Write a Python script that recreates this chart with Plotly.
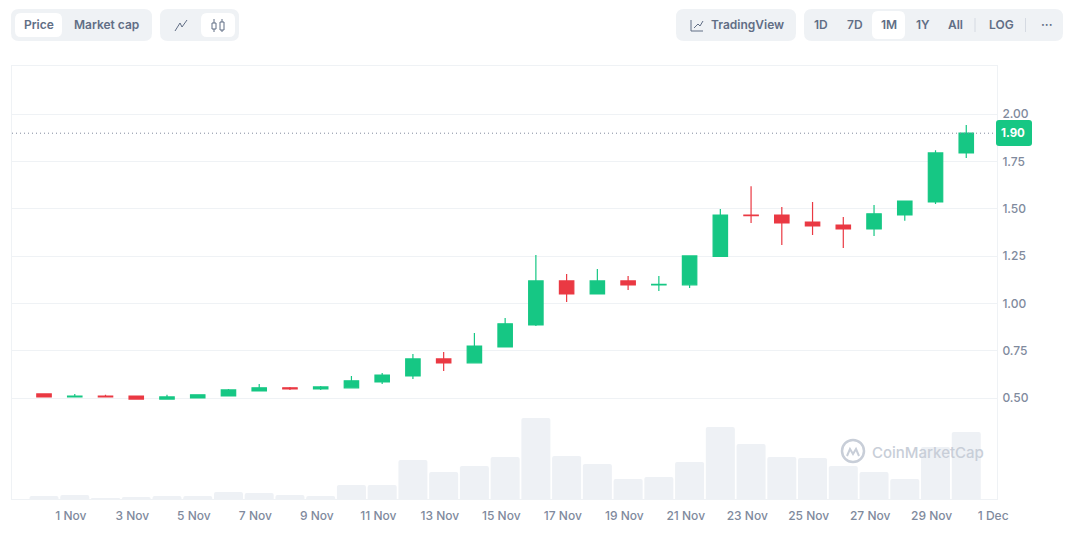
import pandas as pd
import plotly.graph_objects as go

# one candle per day, 31 Oct - 30 Nov
days = pd.date_range("2021-10-31", periods=31, freq="D") + pd.Timedelta(hours=3)

opens = [.523, .507, .512, .512, .496, .502, .512, .539, .555, .549, .555,
         .586, .618, .708, .687, .771, .887, 1.12, 1.051, 1.12, 1.099,
         1.099, 1.25, 1.468, 1.468, 1.431, 1.415, 1.394, 1.468, 1.537, 1.796]
closes = [.507, .512, .507, .496, .507, .518, .544, .555, .549, .56, .592,
          .623, .708, .687, .776, .893, 1.12, 1.051, 1.12, 1.099, 1.102,
          1.252, 1.468, 1.465, 1.426, 1.41, 1.394, 1.474, 1.542, 1.796, 1.90]
highs = [.523, .523, .518, .512, .518, .518, .549, .576, .56, .565, .618,
         .634, .734, .745, .845, .924, 1.257, 1.157, 1.183, 1.146, 1.146,
         1.252, 1.50, 1.62, 1.51, 1.537, 1.458, 1.521, 1.542, 1.81, 1.944]
lows = [.507, .507, .505, .496, .496, .502, .512, .539, .544, .544, .555,
        .576, .602, .644, .687, .771, .882, 1.009, 1.051, 1.072, 1.067,
        1.083, 1.25, 1.426, 1.31, 1.363, 1.294, 1.357, 1.437, 1.526, 1.769]
# volume has no scale on the chart, so these are relative heights
volumes = [3, 4, 1, 2, 3, 3, 7, 6, 4, 3, 14, 14, 39, 27, 33, 42, 81, 43, 35, 20,
           22, 37, 72, 55, 42, 41, 33, 27, 20, 52, 67]

price_ticks = [0.5, 0.75, 1.0, 1.25, 1.5, 1.75, 2.0]
last_price = closes[-1]

GREEN = "#16c784"
RED = "#ea3943"
GRID = "#eff2f5"
PANEL = "#eff2f5"
BTN_TEXT = "#616e85"
TICK_TEXT = "#808a9d"
FONT = "Inter"

# plot box in window pixels
L, R, T, B = 12, 997, 66, 499


def px(x):
    return (x - L) / (R - L)


def py(y):
    return (B - y) / (B - T)


def rrect(x0, y0, x1, y1, r, color):
    a, b, c, d = px(x0), px(x1), py(y0), py(y1)
    rx, ry = r / (R - L), r / (B - T)
    path = (f"M {a+rx} {c} L {b-rx} {c} Q {b} {c} {b} {c-ry} L {b} {d+ry} Q {b} {d} {b-rx} {d} "
            f"L {a+rx} {d} Q {a} {d} {a} {d+ry} L {a} {c-ry} Q {a} {c} {a+rx} {c} Z")
    return dict(type="path", xref="paper", yref="paper", path=path, fillcolor=color, line_width=0)


def stroke(points, color=BTN_TEXT, width=1):
    path = "M " + " L ".join(f"{px(x)} {py(y)}" for x, y in points)
    return dict(type="path", xref="paper", yref="paper", path=path, line=dict(color=color, width=width))


def label(text, x, y, size=12, color=BTN_TEXT, weight=600):
    return dict(text=text, x=px(x), y=py(y), xref="paper", yref="paper", showarrow=False,
                xanchor="center", yanchor="middle",
                font=dict(family=FONT, size=size, color=color, weight=weight))


fig = go.Figure()
fig.add_trace(go.Bar(x=days, y=volumes, yaxis="y2", width=0.944 * 86400000,
                     marker=dict(color="#eef1f5", line_width=0, cornerradius=2), hoverinfo="skip"))
fig.add_trace(go.Candlestick(
    x=days, open=opens, high=highs, low=lows, close=closes, whiskerwidth=0,
    increasing=dict(line=dict(color=GREEN, width=1.2), fillcolor=GREEN),
    decreasing=dict(line=dict(color=RED, width=1.2), fillcolor=RED),
))

shapes = [
    dict(type="line", xref="paper", yref="y", x0=0, x1=1, y0=last_price, y1=last_price,
         line=dict(color="#808a9d", width=1, dash="1px,3px")),
    # toolbar panels
    rrect(11, 9, 152, 41, 8, PANEL),
    rrect(15, 13, 62, 37, 6, "#ffffff"),
    rrect(160, 9, 239, 41, 8, PANEL),
    rrect(201, 13, 235, 37, 6, "#ffffff"),
    rrect(676, 9, 796, 41, 8, PANEL),
    rrect(804, 9, 1063, 41, 8, PANEL),
    rrect(872, 11, 905, 39, 6, "#ffffff"),
    stroke([(975, 18), (975, 32)], "#d5dae2"),
    stroke([(1025.5, 18), (1025.5, 32)], "#d5dae2"),
    # line icon
    stroke([(175, 31), (180, 23), (182, 27), (187, 20)]),
    # candle icon
    stroke([(214, 19), (214, 32)]), rrect(212, 23, 216, 29, 1, "#ffffff"),
    stroke([(212, 23), (216, 23), (216, 29), (212, 29), (212, 23)]),
    stroke([(222, 19), (222, 32)]), rrect(220, 22, 224, 30, 1, "#ffffff"),
    stroke([(220, 22), (224, 22), (224, 30), (220, 30), (220, 22)]),
    # tradingview icon
    stroke([(691, 20), (691, 31), (703, 31)]),
    stroke([(694, 28), (698, 24), (700, 26), (703, 21)]),
    # price badge
    rrect(996, 120, 1032, 146, 3, GREEN),
    # watermark logo
    stroke([(847, 456), (850, 449), (853, 454), (856, 449), (859, 456)], "#c8ced8", 2),
    dict(type="circle", xref="paper", yref="paper", x0=px(842), x1=px(864), y0=py(462), y1=py(440),
         line=dict(color="#c8ced8", width=2.5)),
]

annotations = [
    label("Price", 39, 25),
    label("Market cap", 106.5, 25),
    label("TradingView", 747, 25),
    label("1D", 821, 25),
    label("7D", 854.5, 25),
    label("1M", 889, 25),
    label("1Y", 922.5, 25),
    label("All", 955, 25),
    label("LOG", 1001, 25),
    label("···", 1046, 25),
    label(f"{last_price:.2f}", 1013.5, 133, size=11.5, color="#ffffff", weight=700),
    label("CoinMarketCap", 927.5, 452, size=15, color="#c8ced8", weight=500),
]

fig.update_layout(
    width=1073, height=548,
    margin=dict(l=L, r=1073 - R, t=T, b=548 - B, pad=0),
    paper_bgcolor="#ffffff", plot_bgcolor="#ffffff",
    showlegend=False, boxgap=0.33,
    shapes=shapes, annotations=annotations,
    xaxis=dict(
        type="date", range=["2021-10-30 02:00", "2021-12-01 03:00"],
        tick0="2021-11-01", dtick=2 * 86400000, tickformat="%-d %b",
        rangeslider_visible=False, showgrid=False, zeroline=False,
        showline=True, mirror=True, linecolor=GRID, linewidth=1, ticks="",
        ticklabelstandoff=6,
        tickfont=dict(family=FONT, size=12, color=TICK_TEXT, weight=500),
    ),
    yaxis=dict(
        range=[-0.032, 2.255], side="right", tickmode="array", tickvals=price_ticks,
        tickformat=".2f", gridcolor=GRID, gridwidth=1, zeroline=False, ticks="",
        showline=True, mirror=True, linecolor=GRID, linewidth=1,
        ticklabelstandoff=2,
        tickfont=dict(family=FONT, size=12, color=TICK_TEXT, weight=500),
    ),
    yaxis2=dict(range=[0, 433], overlaying="y", visible=False),
)

fig.write_html("out.html", post_script="document.body.style.margin='0';",
               config=dict(displayModeBar=False))
